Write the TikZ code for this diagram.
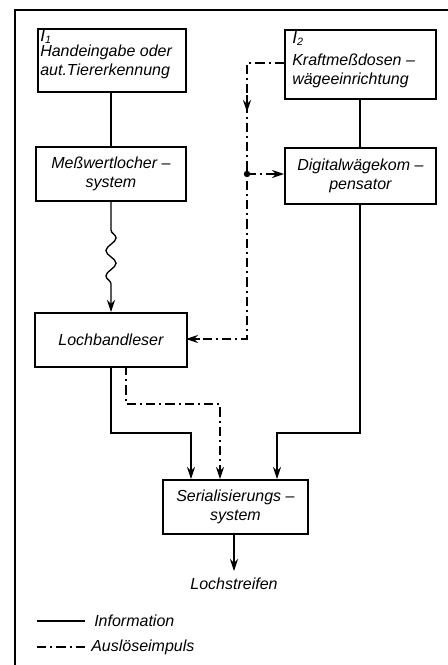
\documentclass[tikz,border=0pt]{standalone}
\usepackage{fontspec}
\setmainfont{Liberation Sans}
\usetikzlibrary{arrows.meta,decorations.pathmorphing}
\newcommand{\tf}{\itshape\fontsize{12}{14.2}\selectfont}
\begin{document}
\begin{tikzpicture}[x=0.75pt,y=-0.75pt,
  blk/.style={draw,line width=1.4pt,inner sep=0pt,font=\tf,align=center},
  info/.style={line width=1pt},
  trig/.style={line width=1pt,dash pattern=on 7pt off 3pt on 1.5pt off 3pt},
  arr/.style={-{Stealth[length=9pt,width=6pt]}},
  lbl/.style={font=\tf}]
\useasboundingbox (0,0) rectangle (448,665);
% frame
\draw[line width=1pt] (15,665) -- (15,10) -- (448,10);
% boxes
\node[blk,minimum height=63*0.75pt,minimum width=148*0.75pt,anchor=north west] (i1) at (37,28) {};
\node[lbl,anchor=north west,inner sep=0pt] (i1n) at (40,29) {{\fontsize{13}{13}\selectfont I}\textsubscript{1}};
\node[lbl,anchor=north west,align=left,inner sep=0pt] (i1t) at (40,45) {\tf Handeingabe oder\\\tf aut.Tiererkennung};
\node[blk,minimum height=54*0.75pt,minimum width=150*0.75pt,anchor=north west] (mw) at (35,146) {Meßwertlocher –\\system};
\node[blk,minimum height=69*0.75pt,minimum width=151*0.75pt,anchor=north west] (i2) at (284,29) {};
\node[lbl,anchor=north west,inner sep=0pt] (i2n) at (292,31) {{\fontsize{13}{13}\selectfont I}\textsubscript{2}};
\node[lbl,anchor=north west,align=left,inner sep=0pt] (i2t) at (292,54) {\tf Kraftmeßdosen –\\\tf wägeeinrichtung};
\node[blk,minimum height=56*0.75pt,minimum width=151*0.75pt,anchor=north west] (dw) at (284,147) {Digitalwägekom –\\pensator};
\node[blk,minimum height=54*0.75pt,minimum width=152*0.75pt,anchor=north west] (lb) at (34,312) {Lochbandleser};
\node[blk,minimum height=54*0.75pt,minimum width=145*0.75pt,anchor=north west] (se) at (162,479) {Serialisierungs –\\system};
\node[lbl,inner sep=0pt] (ls) at (234,584) {Lochstreifen};
% information lines
\draw[info] (111,91) -- (111,146);
\draw[info] (360,98) -- (360,147);
\draw[info,arr] (111,200) -- (111,230)
  decorate[decoration={snake,amplitude=3.8pt,segment length=19pt}] {-- (111,284)}
  -- (111,312);
\draw[info,arr] (111,366) -- (111,433) -- (191,433) -- (191,479);
\draw[info,arr] (360,203) -- (360,433) -- (277,433) -- (277,479);
\draw[info,arr] (234,533) -- (234,571);
% trigger lines
\coordinate (c1) at (247,63);
\coordinate (j) at (247,174);
\coordinate (c2) at (247,339);
\draw[trig] (284,63) -- (c1) -- (j) -- (c2) -- (186,339);
\draw[info,arr] (247,95) -- (247,112);
\draw[trig,arr] (j) -- (284,174);
\draw[info,arr] (200,339) -- (186,339);
\fill (j) circle (2.4pt);
\draw[trig,arr] (126,366) -- (126,404) -- (220,404) -- (220,479);
% legend
\draw[info] (37,621) -- (85,621);
\node[lbl,anchor=west,inner sep=0pt] (l1) at (94,621) {Information};
\draw[trig] (37,647) -- (88,647);
\node[lbl,anchor=west,inner sep=0pt] (l2) at (91,647) {Auslöseimpuls};
\end{tikzpicture}
\end{document}
